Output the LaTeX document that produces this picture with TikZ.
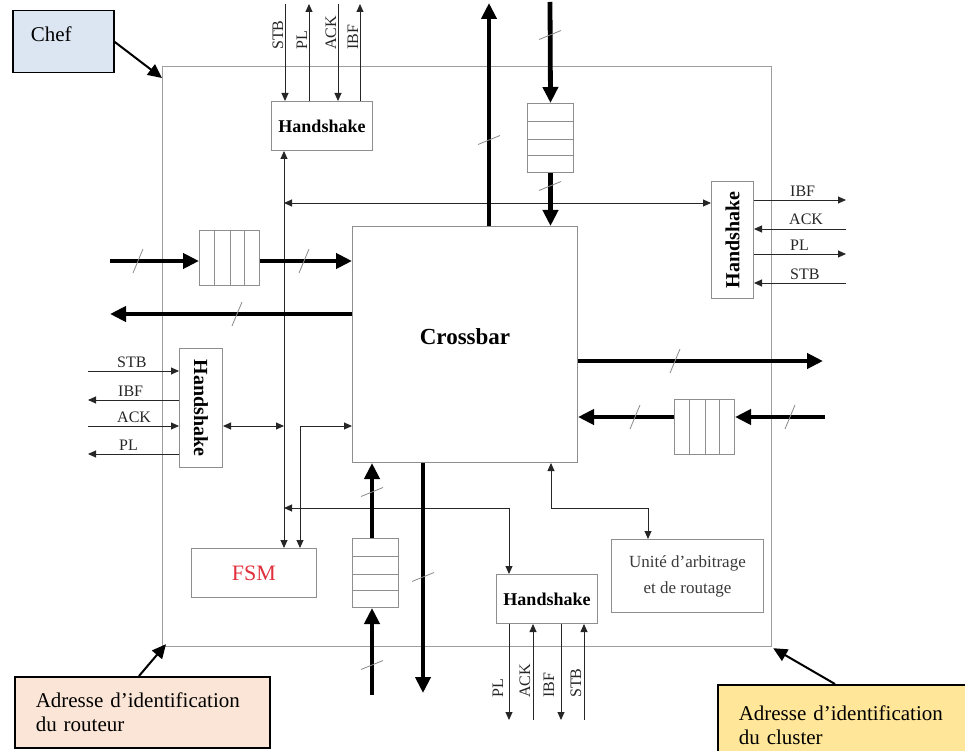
\documentclass[tikz,border=0pt]{standalone}
\usepackage{fontspec}
\usepackage{graphicx}
\setmainfont{Liberation Serif}
\usetikzlibrary{arrows.meta,calc}
\definecolor{boxgray}{HTML}{8E8E8E}
\definecolor{outergray}{HTML}{9E9E9E}
\definecolor{sigcol}{HTML}{262626}
\definecolor{slashcol}{HTML}{8A8A8A}
\definecolor{chefblue}{HTML}{DCE6F2}
\definecolor{peach}{HTML}{FBE5D6}
\definecolor{sand}{HTML}{FFE699}
\definecolor{fsmred}{HTML}{E0303C}
\definecolor{unittext}{HTML}{3A3A3A}
\newcommand\hslashmark[2]{\draw[slash] (#1-5,#2+12) -- (#1+5,#2-12);}
\newcommand\vslashmark[2]{\draw[slash] (#1-11,#2+4.5) -- (#1+11,#2-4.5);}
\begin{document}
\begin{tikzpicture}[x=1pt,y=-1pt,
  gbox/.style={draw=boxgray,line width=1pt,fill=white,inner sep=0pt,anchor=north west},
  hsbox/.style={gbox,font=\fontsize{18pt}{20pt}\selectfont\bfseries},
  hsrot/.style={gbox,font=\fontsize{20pt}{22pt}\selectfont\bfseries},
  fifoline/.style={draw=boxgray,line width=1pt},
  callbox/.style={draw=black,line width=1.5pt,inner ysep=0pt,inner xsep=21pt,anchor=north west,align=left,font=\fontsize{21pt}{24pt}\selectfont},
  callarrow/.style={draw=black,line width=2pt,-{Triangle[length=14pt,width=13pt]}},
  sig/.style={draw=sigcol,line width=0.9pt,-{Triangle[length=8pt,width=7pt]}},
  sigb/.style={draw=sigcol,line width=0.9pt,{Triangle[length=8pt,width=7pt]}-{Triangle[length=8pt,width=7pt]}},
  bus/.style={draw=black,line width=4.8pt,-{Triangle[length=16pt,width=15pt]}},
  slash/.style={draw=slashcol,line width=0.8pt},
  lbl/.style={font=\fontsize{16pt}{18pt}\selectfont,inner sep=0pt,text=sigcol}
]
\useasboundingbox (0,0) rectangle (965,751);

% outer router box
\node[gbox,draw=outergray,fill=none,line width=1.2pt,minimum width=609pt,minimum height=580pt] (router) at (162,66) {};

% main blocks
\node[gbox,minimum width=225pt,minimum height=236pt,font=\fontsize{23pt}{26pt}\selectfont\bfseries,text depth=15pt] (cross) at (352,226) {Crossbar};
\node[hsbox,minimum width=101pt,minimum height=49pt] (hsT) at (271,101) {Handshake};
\node[hsbox,minimum width=101pt,minimum height=49pt] (hsB) at (496,574) {Handshake};
\node[hsrot,minimum width=42pt,minimum height=117pt] (hsR) at (711,181) {\rotatebox{90}{Handshake}};
\node[hsrot,minimum width=43pt,minimum height=119pt] (hsL) at (179,348) {\rotatebox{-90}{Handshake}};
\node[gbox,minimum width=125pt,minimum height=49pt,text=fsmred,font=\fontsize{22pt}{24pt}\selectfont] (fsm) at (191,548) {FSM};
\node[gbox,minimum width=152pt,minimum height=73pt,align=center,text=unittext,font=\fontsize{17pt}{26pt}\selectfont] (unit) at (611,539) {Unité d’arbitrage\\et de routage};

% FIFOs
\node[gbox,minimum width=46pt,minimum height=69pt] (fifoT) at (527,103) {};
\node[gbox,minimum width=46pt,minimum height=69pt] (fifoB) at (352,538) {};
\node[gbox,minimum width=60pt,minimum height=55pt] (fifoL) at (199,230) {};
\node[gbox,minimum width=60pt,minimum height=55pt] (fifoR) at (674,399) {};
\foreach \f in {0.26,0.52,0.75} {
  \draw[fifoline] ($(fifoT.north west)!\f!(fifoT.south west)$) -- ($(fifoT.north east)!\f!(fifoT.south east)$);
  \draw[fifoline] ($(fifoB.north west)!\f!(fifoB.south west)$) -- ($(fifoB.north east)!\f!(fifoB.south east)$);
  \draw[fifoline] ($(fifoL.north west)!\f!(fifoL.north east)$) -- ($(fifoL.south west)!\f!(fifoL.south east)$);
  \draw[fifoline] ($(fifoR.north west)!\f!(fifoR.north east)$) -- ($(fifoR.south west)!\f!(fifoR.south east)$);
}

% callout boxes
\node[callbox,fill=chefblue,inner xsep=18pt,minimum width=101pt,minimum height=62pt,text width=65pt,text depth=16pt] (chef) at (12,10) {Chef};
\node[callbox,fill=peach,minimum width=255pt,minimum height=71pt,text width=213pt] (labR) at (14,676) {Adresse d’identification\\du routeur};
\node[callbox,fill=sand,minimum width=262pt,minimum height=80pt,text width=220pt] (labC) at (717,684) {Adresse d’identification\\du cluster};
\draw[callarrow] (chef.east) -- ($(router.north west)+(0,12)$);
\draw[callarrow] ($(labR.north west)+(125,0)$) -- ($(router.south west)+(4,-3)$);
\draw[callarrow] ($(labC.north west)+(118,0)$) -- ($(router.south east)+(1,1)$);

% helper coordinates
\coordinate (vx) at (284,0);
\coordinate (vx2) at (300,0);
\coordinate (jA) at (0,203);
\coordinate (jB) at (0,426);
\coordinate (jC) at (0,508);
\coordinate (xb) at (509,0);
\coordinate (xu1) at (551,0);
\coordinate (xu2) at (648,0);

% internal control lines
\draw[sigb] (hsT.south -| vx) -- (fsm.north -| vx);
\draw[sigb] (vx |- jA) -- (hsR.west |- jA);
\draw[sigb] (hsL.east |- jB) -- (vx |- jB);
\draw[sigb] (fsm.north -| vx2) |- (cross.west |- jB);
\draw[sigb] (vx |- jC) -| (hsB.north -| xb);
\draw[sigb] (cross.south -| xu1) |- (xu2 |- jC) -- (unit.north -| xu2);

% top handshake signals
\coordinate (tSTB) at (285,4);
\coordinate (tPL) at (309,4);
\coordinate (tACK) at (338,4);
\coordinate (tIBF) at (360,4);
\draw[sig] (tSTB) -- (tSTB |- hsT.north);
\draw[sig] (tPL |- hsT.north) -- (tPL);
\draw[sig] (tACK) -- (tACK |- hsT.north);
\draw[sig] (tIBF |- hsT.north) -- (tIBF);
\node[lbl,rotate=90,anchor=base west] (ltSTB) at (283,50) {STB};
\node[lbl,rotate=90,anchor=base west] (ltPL) at (307,50) {PL};
\node[lbl,rotate=90,anchor=base west] (ltACK) at (336,50) {ACK};
\node[lbl,rotate=90,anchor=base west] (ltIBF) at (358,50) {IBF};

% right handshake signals
\coordinate (rIBF) at (846,200);
\coordinate (rACK) at (846,229);
\coordinate (rPL) at (846,254);
\coordinate (rSTB) at (846,283);
\draw[sig] (hsR.east |- rIBF) -- (rIBF);
\draw[sig] (rACK) -- (hsR.east |- rACK);
\draw[sig] (hsR.east |- rPL) -- (rPL);
\draw[sig] (rSTB) -- (hsR.east |- rSTB);
\node[lbl,anchor=base west] (lrIBF) at (790,197) {IBF};
\node[lbl,anchor=base west] (lrACK) at (789,225) {ACK};
\node[lbl,anchor=base west] (lrPL) at (790,251) {PL};
\node[lbl,anchor=base west] (lrSTB) at (790,279) {STB};

% left handshake signals
\coordinate (lSTB) at (88,371);
\coordinate (lIBF) at (88,400);
\coordinate (lACK) at (88,426);
\coordinate (lPL) at (88,454);
\draw[sig] (lSTB) -- (hsL.west |- lSTB);
\draw[sig] (hsL.west |- lIBF) -- (lIBF);
\draw[sig] (lACK) -- (hsL.west |- lACK);
\draw[sig] (hsL.west |- lPL) -- (lPL);
\node[lbl,anchor=base west] (llSTB) at (117,367) {STB};
\node[lbl,anchor=base west] (llIBF) at (118,396) {IBF};
\node[lbl,anchor=base west] (llACK) at (117,422) {ACK};
\node[lbl,anchor=base west] (llPL) at (119,450) {PL};

% bottom handshake signals
\coordinate (bPL) at (509,720);
\coordinate (bACK) at (533,720);
\coordinate (bIBF) at (561,720);
\coordinate (bSTB) at (584,720);
\draw[sig] (hsB.south -| bPL) -- (bPL);
\draw[sig] (bACK) -- (hsB.south -| bACK);
\draw[sig] (hsB.south -| bIBF) -- (bIBF);
\draw[sig] (bSTB) -- (hsB.south -| bSTB);
\node[lbl,rotate=90,anchor=base west] (lbPL) at (503,698) {PL};
\node[lbl,rotate=90,anchor=base west] (lbACK) at (530,698) {ACK};
\node[lbl,rotate=90,anchor=base west] (lbIBF) at (554,698) {IBF};
\node[lbl,rotate=90,anchor=base west] (lbSTB) at (581,698) {STB};

% data buses
\coordinate (tUp) at (489,3);
\coordinate (tDn) at (550,2);
\coordinate (lIn) at (110,261);
\coordinate (lOut) at (110,314);
\coordinate (rOut) at (823,361);
\coordinate (rIn) at (825,417);
\coordinate (bIn) at (372,695);
\coordinate (bOut) at (423,693);
\draw[bus] (cross.north -| tUp) -- (tUp);
\draw[bus] (tDn) -- (fifoT.north);
\draw[bus] (fifoT.south) -- (cross.north -| fifoT.south);
\draw[bus] (lIn) -- (fifoL.west |- lIn);
\draw[bus] (fifoL.east |- lIn) -- (cross.west |- lIn);
\draw[bus] (cross.west |- lOut) -- (lOut);
\draw[bus] (cross.east |- rOut) -- (rOut);
\draw[bus] (rIn) -- (fifoR.east |- rIn);
\draw[bus] (fifoR.west |- rIn) -- (cross.east |- rIn);
\draw[bus] (bIn) -- (fifoB.south -| bIn);
\draw[bus] (fifoB.north -| bIn) -- (cross.south -| bIn);
\draw[bus] (cross.south -| bOut) -- (bOut);

% bus width marks
\vslashmark{489}{140}
\vslashmark{550}{35}
\vslashmark{550}{186}
\hslashmark{138}{261}
\hslashmark{304}{261}
\hslashmark{237}{314}
\hslashmark{675}{361}
\hslashmark{635}{417}
\hslashmark{790}{417}
\vslashmark{372}{492}
\vslashmark{372}{665}
\vslashmark{423}{577}
\end{tikzpicture}
\end{document}
